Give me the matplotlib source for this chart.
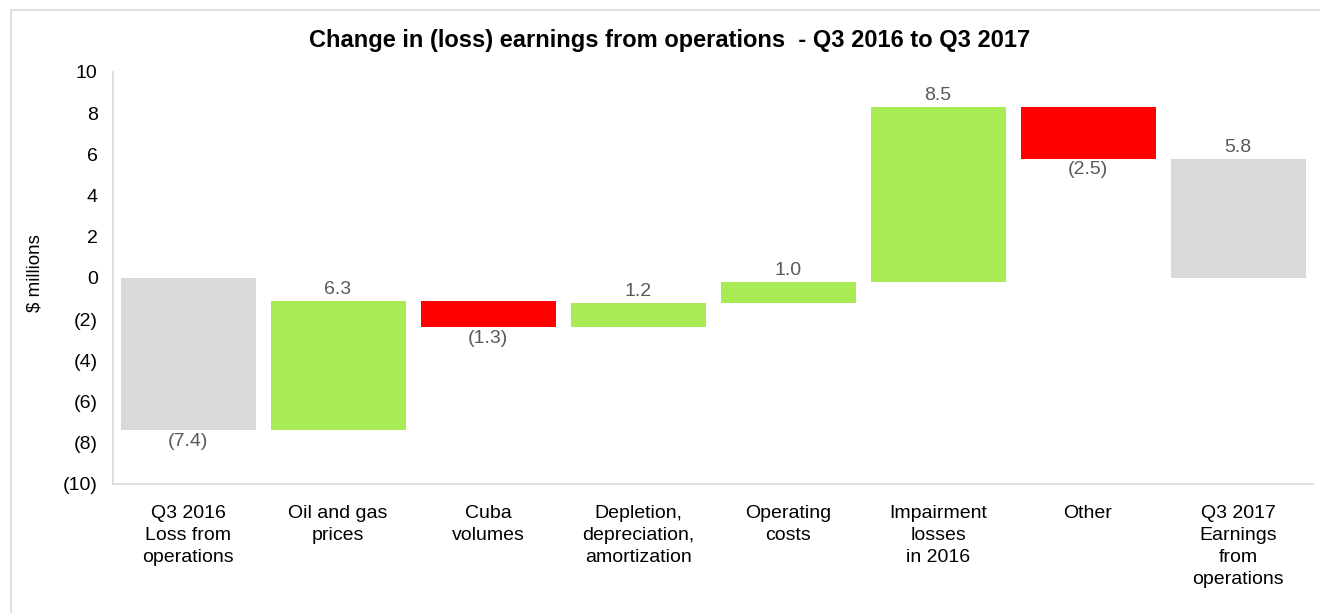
import matplotlib.pyplot as plt
import numpy as np
from matplotlib.patches import Rectangle

plt.rcParams['font.family'] = ['Liberation Sans', 'DejaVu Sans']

categories = ["Q3 2016\nLoss from\noperations", "Oil and gas\nprices", "Cuba\nvolumes",
              "Depletion,\ndepreciation,\namortization", "Operating\ncosts",
              "Impairment\nlosses\nin 2016", "Other", "Q3 2017\nEarnings\nfrom\noperations"]
values = [-7.4, 6.3, -1.3, 1.2, 1.0, 8.5, -2.5, 5.8]
kinds = ["total", "delta", "delta", "delta", "delta", "delta", "delta", "total"]

GREEN = "#A9EB55"
RED = "#FF0000"
GREY = "#D9D9D9"
LABEL = "#595959"

fig = plt.figure(figsize=(13.2, 6.13), dpi=100)
fig.patches.append(Rectangle((11 / 1320, -0.1), 1.2, 1 - 9.5 / 613 + 0.1,
                             transform=fig.transFigure, fill=False,
                             edgecolor="#D9D9D9", linewidth=1.2))
ax = fig.add_axes([113 / 1320, 1 - 484 / 613, 1200 / 1320, (484 - 72) / 613])

x = np.arange(len(values))
running = 0.0
for i, (v, k) in enumerate(zip(values, kinds)):
    if k == "total":
        bottom, height = 0.0, v
        color = GREY
        running = v
    else:
        bottom, height = running, v
        color = GREEN if v > 0 else RED
        running += v
    ax.bar(x[i], height, bottom=bottom, width=0.9, color=color)
    top = max(bottom, bottom + height)
    low = min(bottom, bottom + height)
    txt = f"{v:.1f}" if v >= 0 else f"({abs(v):.1f})"
    if v >= 0:
        ax.annotate(txt, (x[i], top), xytext=(0, 2), textcoords="offset points",
                    ha="center", va="bottom", color=LABEL, fontsize=14)
    else:
        ax.annotate(txt, (x[i], low), xytext=(0, -2), textcoords="offset points",
                    ha="center", va="top", color=LABEL, fontsize=14)

ax.set_xlim(-0.5, len(values) - 0.5)
ax.set_ylim(-10, 10)
ax.set_yticks(np.arange(-10, 11, 2))
ax.set_yticklabels([f"({abs(t)})" if t < 0 else f"{t}" for t in range(-10, 11, 2)])
ax.set_xticks(x)
ax.set_xticklabels(categories, linespacing=1.38)
ax.tick_params(axis="both", length=0, labelsize=14, colors="black")
ax.tick_params(axis="x", pad=15)
ax.tick_params(axis="y", pad=11)
for s in ["top", "right"]:
    ax.spines[s].set_visible(False)
for s in ["left", "bottom"]:
    ax.spines[s].set_color("#D9D9D9")
    ax.spines[s].set_linewidth(1.2)

fig.text(35 / 1320, 1 - 273 / 613, "$ millions", rotation=90, ha="center", va="center",
         fontsize=13.5)
fig.text(670 / 1320, 1 - 40 / 613, "Change in (loss) earnings from operations  - Q3 2016 to Q3 2017",
         ha="center", va="center", fontsize=17, fontweight="bold")

fig.savefig("out.png", dpi=100)
